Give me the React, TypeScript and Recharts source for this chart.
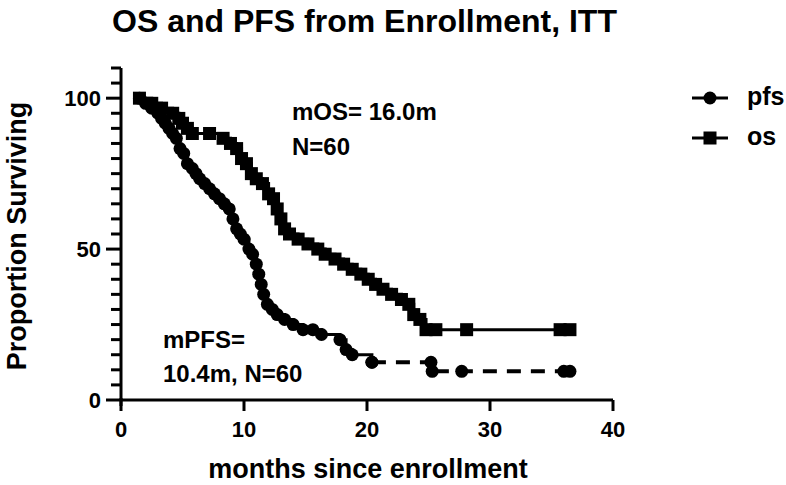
import { LineChart, Line, XAxis, YAxis } from 'recharts';

// Kaplan-Meier steps: months, % surviving
const pfsMonths = [1.5, 2.0, 2.5, 3.0, 3.3, 3.6, 3.9, 4.2, 4.5, 4.8, 5.1, 5.4, 5.8, 6.1, 6.4, 6.8, 7.2, 7.6, 8.0, 8.4, 8.8, 9.1, 9.4, 9.7, 10.0, 10.4, 10.7, 11.0, 11.2, 11.4, 11.6, 11.9, 12.3, 12.7, 13.3, 14.0, 14.8, 15.6, 16.3, 17.8, 18.3, 18.8, 20.4];
const pfsValues = [100, 98.3, 96.7, 95, 93.3, 91.7, 90, 88.3, 86.7, 83.3, 81.7, 78.3, 76.7, 75, 73.3, 71.7, 70, 68.3, 66.7, 65, 63.3, 60, 56.7, 55, 53.3, 50, 48.3, 45, 41.7, 38.3, 35, 31.7, 30, 28.3, 26.7, 25, 23.3, 23.3, 21.7, 20, 16.7, 15, 12.5];
// tail of pfs, drawn dashed
const pfsTailMonths = [20.4, 25.2, 25.3, 27.7, 36.0, 36.5];
const pfsTailValues = [12.5, 12.5, 9.5, 9.5, 9.5, 9.5];

const osMonths = [1.5, 2.5, 3.3, 4.2, 4.7, 5.0, 5.4, 5.8, 7.2, 8.3, 8.9, 9.4, 9.8, 10.2, 10.6, 11.0, 11.5, 12.0, 12.4, 12.7, 13.0, 13.3, 13.7, 14.4, 15.2, 16.0, 16.6, 17.4, 18.1, 18.8, 19.5, 20.1, 20.7, 21.3, 22.0, 22.8, 23.4, 23.8, 24.3, 24.8, 25.6, 28.1, 35.7, 36.5];
const osValues = [100, 98.3, 96.7, 95, 93.3, 91.7, 90, 88.3, 88.3, 86.7, 85, 83.3, 80, 78.3, 75, 73.3, 71.7, 68.3, 66.7, 63.3, 60, 56.7, 55, 53.3, 51.7, 50, 48.3, 46.7, 45, 43.3, 41.7, 40, 38.3, 36.7, 35, 33.3, 31.7, 28.3, 26.7, 23.3, 23.3, 23.3, 23.3, 23.3];

const xTicks = [0, 10, 20, 30, 40];
const yTicks = [0, 5, 10, 15, 20, 25, 30, 35, 40, 45, 50, 55, 60, 65, 70, 75, 80, 85, 90, 95, 100, 105, 110];
const yLabelled = [0, 50, 100];

const seriesNames = ['pfs', 'os'];

const toRows = (xs: number[], ys: number[]) => xs.map((m, i) => ({ m, v: ys[i] }));

const pfsData = toRows(pfsMonths, pfsValues);
const pfsTail = toRows(pfsTailMonths, pfsTailValues);
const osData = toRows(osMonths, osValues);

const FONT = '"Liberation Sans", Arial, sans-serif';

const T = ({ x, y, size, anchor = 'start', children, rotate = 0 }: any) => (
  <text x={0} y={0} transform={`translate(${x},${y}) rotate(${rotate})`} textAnchor={anchor}
    fontFamily={FONT} fontWeight="bold" fontSize={size} fill="#000">
    {children}
  </text>
);

// tick mark + label drawn together; x,y is the point on the axis line
const YTick = (props: any) => {
  const { x, y, payload } = props;
  const major = yLabelled.includes(payload.value);
  return (
    <g>
      <path d={`M${x - (major ? 15 : 10)},${y}H${x}`} stroke="#000" strokeWidth={3} fill="none" />
      {major && <T x={x - 20} y={y + 8} size={22} anchor="end">{payload.value}</T>}
    </g>
  );
};

const XTick = (props: any) => {
  const { x, y, payload } = props;
  return (
    <g>
      <path d={`M${x},${y}V${y + 11}`} stroke="#000" strokeWidth={3} fill="none" />
      <T x={x} y={y + 37} size={22} anchor="middle">{payload.value}</T>
    </g>
  );
};

const squareDot = (p: any) => (
  <rect key={`os-${p.index}`} x={p.cx - 6.5} y={p.cy - 6.5} width={13} height={13} fill="#000" />
);

export default function App() {
  return (
    <div style={{ position: 'absolute', left: 0, top: 0, width: 786, height: 485, background: '#fff' }}>
      <LineChart width={786} height={485} margin={{ top: 68, right: 173, bottom: 55, left: 0 }}>
        <XAxis
          type="number"
          dataKey="m"
          domain={[0, 40]}
          ticks={xTicks}
          height={30}
          tickSize={0}
          tickMargin={0}
          tickLine={false}
          tick={<XTick />}
          axisLine={{ stroke: '#000', strokeWidth: 3 }}
          allowDataOverflow
        />
        <YAxis
          type="number"
          dataKey="v"
          domain={[0, 110]}
          ticks={yTicks}
          width={121}
          tickSize={0}
          tickMargin={0}
          tickLine={false}
          tick={<YTick />}
          interval={0}
          axisLine={{ stroke: '#000', strokeWidth: 3 }}
        />
        <Line data={pfsData} dataKey="v" name="pfs" type="stepAfter" stroke="#000" strokeWidth={3}
          dot={{ r: 6.5, fill: '#000', stroke: 'none' }} isAnimationActive={false} />
        <Line data={pfsTail} dataKey="v" name="pfs tail" type="stepAfter" stroke="#000" strokeWidth={4}
          strokeDasharray="14 10" dot={{ r: 6.5, fill: '#000', stroke: 'none' }} isAnimationActive={false} legendType="none" />
        <Line data={osData} dataKey="v" name="os" type="stepAfter" stroke="#000" strokeWidth={3}
          dot={squareDot} isAnimationActive={false} />
      </LineChart>

      <svg width={786} height={485} style={{ position: 'absolute', left: 0, top: 0, pointerEvents: 'none' }}>
        <line x1={121} x2={121} y1={398} y2={406} stroke="#000" strokeWidth={3} />
        <T x={112} y={32} size={32}>OS and PFS from Enrollment, ITT</T>
        <T x={26} y={236} size={27} anchor="middle" rotate={-90}>Proportion Surviving</T>
        <T x={368} y={478} size={27} anchor="middle">months since enrollment</T>

        <T x={292} y={120} size={24}>mOS= 16.0m</T>
        <T x={292} y={155} size={24}>N=60</T>
        <T x={163} y={348} size={24}>mPFS=</T>
        <T x={163} y={382} size={24}>10.4m, N=60</T>

        {seriesNames.map((n, i) => {
          const cy = 98 + i * 40;
          return (
            <g key={n}>
              <line x1={692} x2={728} y1={cy} y2={cy} stroke="#000" strokeWidth={3} />
              {n === 'pfs'
                ? <circle cx={710} cy={cy} r={6.5} fill="#000" />
                : <rect x={703.5} y={cy - 6.5} width={13} height={13} fill="#000" />}
              <T x={747} y={cy + 7} size={25}>{n}</T>
            </g>
          );
        })}
      </svg>
    </div>
  );
}
